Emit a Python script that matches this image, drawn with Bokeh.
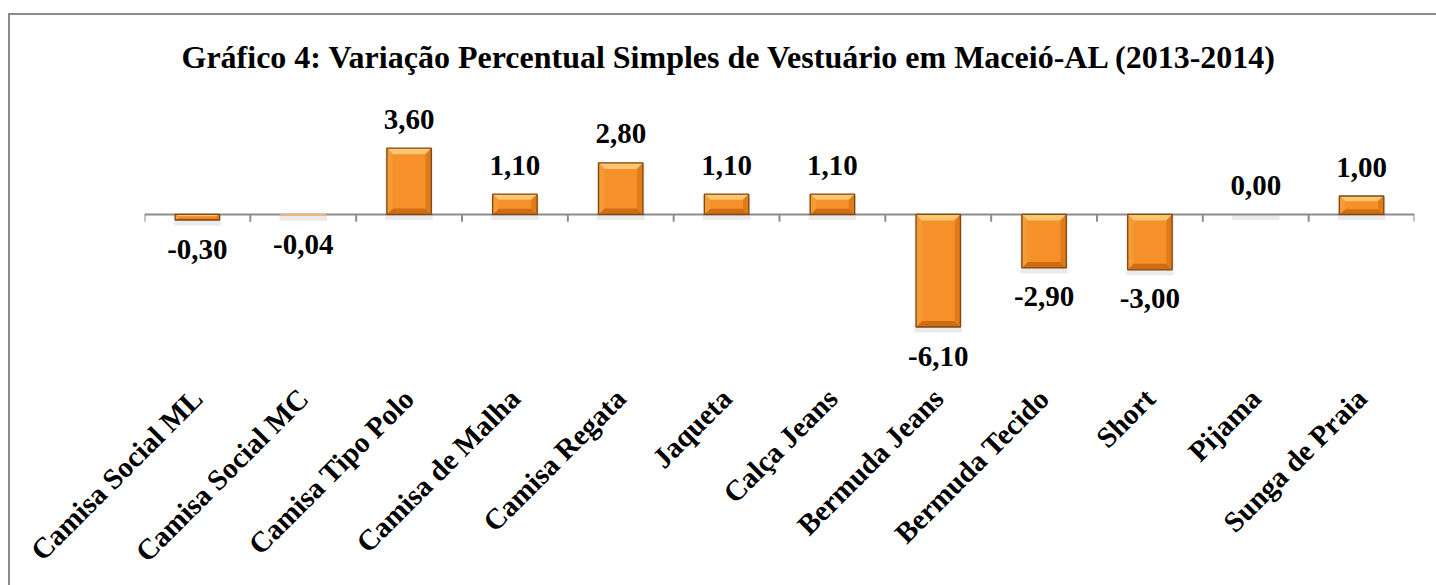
import math
from bokeh.plotting import figure
from bokeh.layouts import column
from bokeh.models import FactorRange, Range1d, ColumnDataSource, Div
from bokeh.embed import file_html
from bokeh.resources import INLINE
from bokeh.core.properties import value

title_text = "Gráfico 4: Variação Percentual Simples de Vestuário em Maceió-AL (2013-2014)"
categories = ["Camisa Social ML", "Camisa Social MC", "Camisa Tipo Polo", "Camisa de Malha",
              "Camisa Regata", "Jaqueta", "Calça Jeans", "Bermuda Jeans", "Bermuda Tecido",
              "Short", "Pijama", "Sunga de Praia"]
values = [-0.30, -0.04, 3.60, 1.10, 2.80, 1.10, 1.10, -6.10, -2.90, -3.00, 0.00, 1.00]

FONT = "Liberation Serif"
BAR_W = 0.42
HW = BAR_W / 2

p = figure(x_range=FactorRange(*categories, range_padding=0),
           y_range=Range1d(-9.27, 6.99),
           width=1436, height=585,
           min_border_left=144, min_border_right=22,
           min_border_top=85, min_border_bottom=200,
           output_backend="svg", toolbar_location=None)
p.title.text = title_text
p.title.text_font = FONT
p.title.text_font_size = "32px"
p.title.text_font_style = "bold"
p.title.text_color = "black"
p.title.align = "left"
p.title.offset = 37
p.title.standoff = 22
p.outline_line_color = None
p.xgrid.visible = False
p.ygrid.visible = False
p.yaxis.visible = False
p.background_fill_color = "white"
p.border_fill_color = "white"

xa = p.xaxis[0]
xa.axis_line_color = None
xa.major_tick_line_color = None
xa.minor_tick_line_color = None
xa.major_label_orientation = math.pi / 4
xa.major_label_text_font = FONT
xa.major_label_text_font_size = "29px"
xa.major_label_text_font_style = "bold"
xa.major_label_text_color = "black"
xa.major_label_standoff = 2

# zero axis line and ticks at category boundaries
p.segment(x0=[(categories[0], -0.5)], y0=[0], x1=[(categories[-1], 0.5)], y1=[0],
          line_color="#8c8c8c", line_width=2)
tick_x = [(c, -0.5) for c in categories] + [(categories[-1], 0.5)]
p.segment(x0=tick_x, y0=[0] * len(tick_x), x1=tick_x, y1=[-0.4] * len(tick_x),
          line_color="#8c8c8c", line_width=2)

# shadows
sh_top = [max(v, 0) - 0.05 for v in values]
sh_bot = [min(v, 0) - 0.3 for v in values]
p.vbar(x=categories, top=sh_top, bottom=sh_bot, width=BAR_W + 0.03,
       fill_color="black", fill_alpha=0.08, line_color=None)

# bars with bevel
bar_cats, bar_top, bar_bot = [], [], []
xs_face, ys_face, col_face = [], [], []
for c, v in zip(categories, values):
    top, bot = max(v, 0), min(v, 0)
    h = top - bot
    if h <= 0:
        continue
    bar_cats.append(c)
    bar_top.append(top)
    bar_bot.append(bot)
    if h < 0.1:
        continue
    by = min(0.33, h * 0.28)
    bx = 0.055 if h > 0.5 else 0.03
    xs_face.append([(c, -HW), (c, HW), (c, HW - bx), (c, -HW + bx)])
    ys_face.append([top, top, top - by, top - by])
    col_face.append("#fcc56f")
    xs_face.append([(c, -HW), (c, HW), (c, HW - bx), (c, -HW + bx)])
    ys_face.append([bot, bot, bot + by, bot + by])
    col_face.append("#d06d12")
    xs_face.append([(c, -HW), (c, -HW + bx), (c, -HW + bx), (c, -HW)])
    ys_face.append([top, top - by, bot + by, bot])
    col_face.append("#f49a36")
    xs_face.append([(c, HW), (c, HW - bx), (c, HW - bx), (c, HW)])
    ys_face.append([top, top - by, bot + by, bot])
    col_face.append("#e07b17")

small = [(t - b) < 0.1 for t, b in zip(bar_top, bar_bot)]
bar_src = ColumnDataSource(dict(x=bar_cats, top=bar_top, bottom=bar_bot,
                                line=["#f3b57a" if s else "#7d4813" for s in small],
                                fill=["#f7c08c" if s else "#f6912a" for s in small]))
p.vbar(x="x", top="top", bottom="bottom", width=BAR_W, source=bar_src,
       fill_color="fill", line_color=None)
p.patches(xs=xs_face, ys=ys_face, fill_color=col_face, line_color=None)
p.vbar(x="x", top="top", bottom="bottom", width=BAR_W, source=bar_src,
       fill_color=None, line_color="line", line_width=1.3)

# value labels
labels = [f"{v:.2f}".replace(".", ",") for v in values]
pos = [i for i, v in enumerate(values) if v >= 0]
neg = [i for i, v in enumerate(values) if v < 0]
p.text(x=[categories[i] for i in pos], y=[values[i] for i in pos], text=[labels[i] for i in pos],
       text_align="center", text_baseline="alphabetic", y_offset=-29,
       text_font=value(FONT), text_font_size="29px", text_font_style="bold", text_color="black")
p.text(x=[categories[i] for i in neg], y=[values[i] for i in neg], text=[labels[i] for i in neg],
       text_align="center", text_baseline="alphabetic", y_offset=29,
       text_font=value(FONT), text_font_size="29px", text_font_style="bold", text_color="black")

# chart border: top and left edges (the rest lies outside the view)
border = Div(text="", width=1, height=1,
             styles={"position": "absolute", "left": "3px", "top": "8px",
                     "width": "3000px", "height": "3000px",
                     "border-top": "2px solid #8a8a8a", "border-left": "2px solid #8a8a8a",
                     "pointer-events": "none", "z-index": "10", "box-sizing": "border-box"})

layout = column(p, border, spacing=0)
open("out.html", "w").write(file_html(layout, INLINE))
